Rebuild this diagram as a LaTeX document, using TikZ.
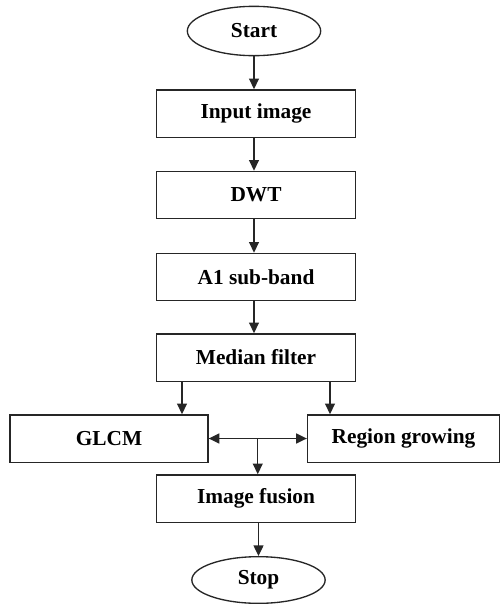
\documentclass[tikz,border=0pt]{standalone}
\usepackage{fontspec}
\setmainfont{Liberation Serif}
\usetikzlibrary{arrows.meta,shapes.geometric,calc}
\begin{document}
\begin{tikzpicture}[x=0.75pt,y=-0.75pt,
        box/.style={draw=black!85,line width=1pt,inner sep=0pt,minimum width=149pt,minimum height=35.5pt,
            font=\fontsize{16}{19}\selectfont\bfseries},
        term/.style={box,ellipse,minimum width=100pt,minimum height=37pt},
        head/.tip={Triangle[length=8pt,width=7.5pt]},
        arr/.style={-head,draw=black!85,line width=1pt}]
        \useasboundingbox (0,0) rectangle (501,604);
        % main column
        \node[term] (start) at (254,31) {Start};
        \node[box] (input) at (256,113.5) {Input image};
        \node[box] (dwt) at (256,195) {DWT};
        \node[box] (aone) at (256,277) {A1 sub-band};
        \node[box] (median) at (256,357.5) {Median filter};
        % the two branches
        \node[box,minimum width=148.5pt] (glcm) at (109,438.5) {GLCM};
        \node[box,minimum width=144pt] (region) at (403.5,438.5) {Region growing};
        \node[box] (fusion) at (256,498.5) {Image fusion};
        \node[term,minimum height=35pt] (stop) at (258.5,580) {Stop};
        % connectors
        \draw[arr] (start) -- (start |- input.north);
        \draw[arr] (start |- input.south) -- (start |- dwt.north);
        \draw[arr] (start |- dwt.south) -- (start |- aone.north);
        \draw[arr] (start |- aone.south) -- (start |- median.north);
        \draw[arr] ([xshift=19.5pt]median.south west) coordinate (ml) -- (ml |- glcm.north);
        \draw[arr] ([xshift=-19.5pt]median.south east) coordinate (mr) -- (mr |- region.north);
        \draw[arr,head-head] (glcm.east) -- (region.west);
        \coordinate (join) at ($(glcm.east)!0.5!(region.west)$);
        \draw[arr] (join) -- (join |- fusion.north);
        \draw[arr] (fusion.south -| stop) -- (stop);
\end{tikzpicture}
\end{document}
